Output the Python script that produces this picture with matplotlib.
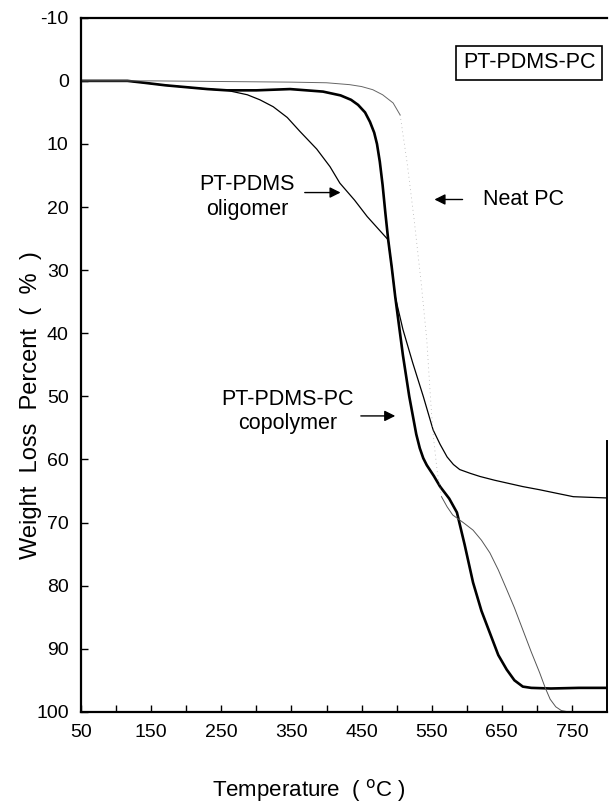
import matplotlib
matplotlib.use('Agg')
import matplotlib.pyplot as plt

plt.rcParams['font.family'] = ['Liberation Sans', 'DejaVu Sans']
plt.rcParams['axes.unicode_minus'] = False

# TGA curves: temperature (C) vs weight loss (%)
copolymer_t = [50, 100, 116, 140, 170, 200, 230, 258, 300, 348, 395, 420, 435, 445, 455,
               462, 468, 472, 476, 480, 484, 488, 493, 498, 509, 518, 523, 528, 533, 538,
               543, 553, 562, 575, 586, 597, 609, 621, 633, 645, 657, 668, 680, 692, 720,
               760, 800]
copolymer_w = [0, 0, 0, 0.3, 0.7, 1.0, 1.3, 1.5, 1.5, 1.3, 1.7, 2.3, 3.0, 3.8, 5.0,
               6.5, 8.2, 10.0, 12.8, 16.5, 21, 25.2, 29.5, 34.2, 43.5, 50.0, 53.0, 56.0, 58.2, 59.8,
               60.9, 62.6, 64.3, 66.2, 68.4, 73.5, 79.5, 84.0, 87.5, 91.0, 93.3, 95.0, 96.0, 96.2, 96.3,
               96.2, 96.2]

oligomer_t = [50, 100, 116, 140, 170, 200, 230, 258, 287, 305, 324, 344, 362, 386, 405,
              419, 440, 458, 475, 488, 493, 498, 509, 523, 538, 552, 562, 572, 581, 590,
              605, 619, 640, 660, 680, 704, 730, 752, 775, 800]
oligomer_w = [0, 0, 0, 0.3, 0.7, 1.0, 1.3, 1.5, 2.2, 3.0, 4.1, 5.8, 8.0, 10.8, 13.6,
              16.2, 18.9, 21.5, 23.6, 25.2, 29.5, 34.2, 39.4, 44.7, 50.0, 55.3, 57.6, 59.6, 60.8, 61.6,
              62.2, 62.7, 63.3, 63.8, 64.3, 64.8, 65.4, 65.9, 66.0, 66.1]

# neat PC: visible start, faint steep part, visible tail
neat_start_t = [50, 150, 250, 350, 400, 433, 450, 466, 480, 495, 505]
neat_start_w = [0, 0, 0.1, 0.2, 0.3, 0.6, 0.9, 1.4, 2.2, 3.5, 5.4]
neat_faint_t = [505, 515, 525, 535, 543, 547, 550, 553, 558, 564]
neat_faint_w = [5.4, 13, 22, 32, 41, 48, 53, 57, 62, 65.9]
neat_end_t = [564, 572, 580, 595, 609, 621, 633, 645, 657, 668,
              680, 692, 704, 712, 719, 727, 735, 745]
neat_end_w = [65.9, 67.5, 68.8, 70.0, 71.2, 72.8, 74.8, 77.5, 80.6, 83.5,
              87.0, 90.5, 93.8, 96.2, 98.0, 99.2, 99.8, 100]

x_ticks = [50, 150, 250, 350, 450, 550, 650, 750]
x_minor = [100, 200, 300, 400, 500, 600, 700]
y_ticks = list(range(-10, 101, 10))

fig = plt.figure(figsize=(6.1, 8.08), dpi=100)
ax = fig.add_axes([0.133, 0.119, 0.862, 0.859])

ax.plot(copolymer_t, copolymer_w, color='black', lw=1.9, solid_joinstyle='round')
ax.plot(oligomer_t, oligomer_w, color='black', lw=0.9, solid_joinstyle='round')
ax.plot(neat_start_t, neat_start_w, color='#666666', lw=0.7)
ax.plot(neat_faint_t, neat_faint_w, color='#b0b0b0', lw=0.6, ls=(0, (1, 4)))
ax.plot(neat_end_t, neat_end_w, color='#555555', lw=0.7)

ax.set_xlim(50, 800)
ax.set_ylim(100, -10)
ax.set_xticks(x_ticks)
ax.set_xticks(x_minor, minor=True)
ax.set_yticks(y_ticks)
ax.tick_params(axis='both', which='both', direction='in', labelsize=14, pad=9,
               width=1.0, length=5, top=False, right=False)

for s in ['left', 'bottom', 'top']:
    ax.spines[s].set_linewidth(1.6)
ax.spines['right'].set_linewidth(1.4)
ax.spines['right'].set_bounds(57, 100)

ax.set_xlabel('Temperature  ( $^{\\mathrm{o}}$C )', fontsize=16)
ax.set_ylabel('Weight  Loss  Percent  (  %  )', fontsize=17)
ax.xaxis.label.set_va('center')
ax.yaxis.label.set_va('center')
ax.xaxis.set_label_coords(0.433, -0.113)
ax.yaxis.set_label_coords(-0.096, 0.442)

# legend-like box
ax.text(0.852, 0.935, 'PT-PDMS-PC', transform=ax.transAxes, fontsize=15.5,
        ha='center', va='center',
        bbox=dict(boxstyle='square,pad=0.3', fc='white', ec='black', lw=1.2))

arrow = dict(arrowstyle='-|>', color='black', lw=1.0, mutation_scale=16)

ax.text(287, 18.4, 'PT-PDMS\noligomer', fontsize=15.5, ha='center', va='center',
        linespacing=1.2)
ax.annotate('', xy=(424, 17.7), xytext=(365, 17.7), arrowprops=arrow)

ax.annotate('', xy=(550, 18.8), xytext=(598, 18.8), arrowprops=arrow)
ax.text(623, 18.8, 'Neat PC', fontsize=15.5, ha='left', va='center')

ax.text(344, 52.4, 'PT-PDMS-PC\ncopolymer', fontsize=15.5, ha='center', va='center',
        linespacing=1.2)
ax.annotate('', xy=(502, 53.1), xytext=(445, 53.1), arrowprops=arrow)

fig.savefig('out.png', dpi=100)
